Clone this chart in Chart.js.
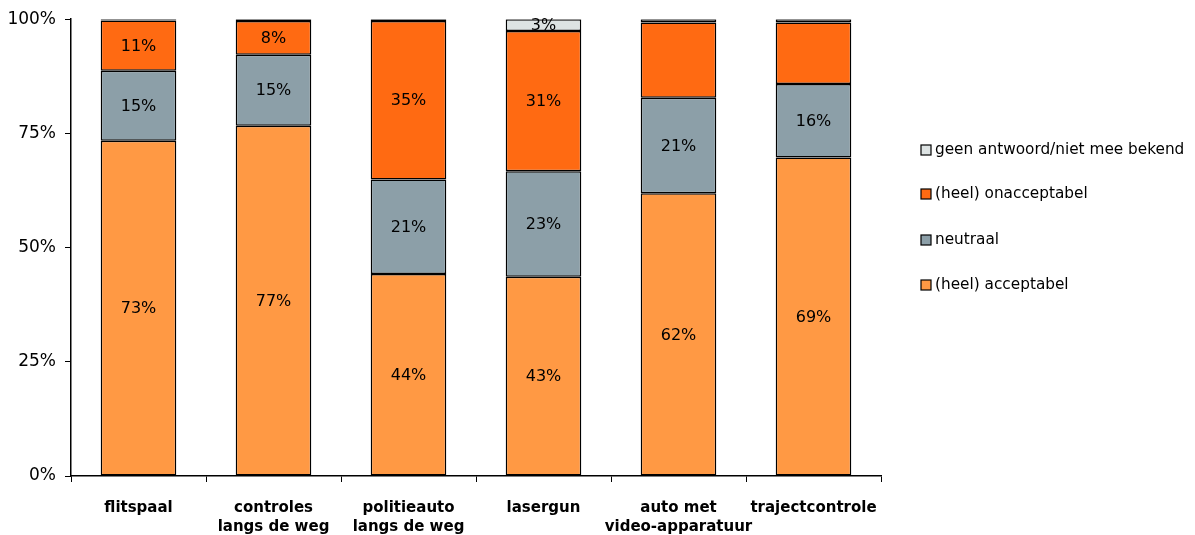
<!DOCTYPE html>
<html>
<head>
<meta charset="utf-8">
<script src="https://cdn.jsdelivr.net/npm/chart.js@4.4.1/dist/chart.umd.min.js"></script>
<style>
  html, body { margin: 0; padding: 0; background: #fff; }
  #wrap { width: 1195px; height: 535px; position: relative; }
</style>
</head>
<body>
<div id="wrap"><canvas id="c"></canvas></div>
<script>
// ---- data ----
const categories = [
  "flitspaal",
  ["controles", "langs de weg"],
  ["politieauto", "langs de weg"],
  "lasergun",
  ["auto met", "video-apparatuur"],
  "trajectcontrole"
];
const seriesNames = ["(heel) acceptabel", "neutraal", "(heel) onacceptabel", "geen antwoord/niet mee bekend"];
const acceptabel   = [73.4, 76.7, 44.2, 43.6, 61.9, 69.7];
const neutraal     = [15.3, 15.5, 20.7, 23.1, 20.9, 16.1];
const onacceptabel = [11.0, 7.4, 34.7, 30.7, 16.5, 13.5];
const geenAntwoord = [0.3, 0.4, 0.4, 2.6, 0.7, 0.7];
const labelsAcceptabel   = ["73%", "77%", "44%", "43%", "62%", "69%"];
const labelsNeutraal     = ["15%", "15%", "21%", "23%", "21%", "16%"];
const labelsOnacceptabel = ["11%", "8%", "35%", "31%", null, null];
const labelsGeen         = [null, null, null, "3%", null, null];
const yTicks = [0, 25, 50, 75, 100];

const colors = ["#FF9944", "#8C9FA8", "#FF6A12", "#DDE3E3"];

const segLabels = [labelsAcceptabel, labelsNeutraal, labelsOnacceptabel, labelsGeen];
const seriesData = [acceptabel, neutraal, onacceptabel, geenAntwoord];

const datasets = seriesData.map((d, i) => ({
  label: seriesNames[i],
  data: d,
  backgroundColor: colors[i],
  borderColor: "#000",
  borderWidth: 1.5,
  borderSkipped: false,
  categoryPercentage: 1.0,
  barPercentage: 0.56
}));

const segLabelPlugin = {
  id: "segLabels",
  afterDatasetsDraw(chart) {
    const ctx = chart.ctx;
    ctx.save();
    ctx.font = "16px 'DejaVu Sans'";
    ctx.fillStyle = "#000";
    ctx.textAlign = "center";
    ctx.textBaseline = "middle";
    chart.data.datasets.forEach((ds, di) => {
      const meta = chart.getDatasetMeta(di);
      meta.data.forEach((el, i) => {
        const t = segLabels[di][i];
        if (!t) return;
        ctx.fillText(t, el.x, (el.y + el.base) / 2 + 1);
      });
    });
    ctx.restore();
  }
};

const legendPlugin = {
  id: "customLegend",
  afterDraw(chart) {
    const ctx = chart.ctx;
    const ca = chart.chartArea;
    const x0 = ca.right + 40;
    const ys = [150, 194, 240, 285];
    ctx.save();
    ctx.font = "15.3px 'DejaVu Sans'";
    ctx.textBaseline = "middle";
    ctx.textAlign = "left";
    const n = chart.data.datasets.length;
    for (let k = 0; k < n; k++) {
      const di = n - 1 - k;
      const ds = chart.data.datasets[di];
      const y = ys[k];
      ctx.fillStyle = ds.backgroundColor;
      ctx.fillRect(x0, y - 5, 10, 10);
      ctx.strokeStyle = "#000";
      ctx.lineWidth = 1.2;
      ctx.strokeRect(x0, y - 5, 10, 10);
      ctx.fillStyle = "#000";
      ctx.fillText(ds.label, x0 + 14, y);
    }
    ctx.restore();
  }
};

new Chart(document.getElementById("c"), {
  type: "bar",
  data: { labels: categories, datasets },
  options: {
    responsive: true,
    maintainAspectRatio: false,
    animation: false,
    layout: { padding: { top: 17, right: 314, bottom: 0, left: 0 } },
    plugins: {
      legend: { display: false },
      tooltip: { enabled: false }
    },
    scales: {
      x: {
        stacked: true,
        grid: { display: true, drawOnChartArea: false, drawTicks: true, tickLength: 6, color: "#000", offset: true },
        border: { display: true, color: "#000", width: 1.5 },
        ticks: {
          color: "#000",
          font: { family: "'DejaVu Sans'", size: 15, weight: "bold", lineHeight: 1.25 },
          padding: 17,
          maxRotation: 0,
          autoSkip: false
        },
        afterFit(scale) { scale.height = 59; }
      },
      y: {
        stacked: true,
        min: 0,
        max: 100,
        afterBuildTicks(scale) { scale.ticks = yTicks.map(v => ({ value: v })); },
        grid: { display: true, drawOnChartArea: false, drawTicks: true, tickLength: 6, color: "#000" },
        border: { display: true, color: "#000", width: 1.5 },
        ticks: {
          color: "#000",
          font: { family: "'DejaVu Sans'", size: 17 },
          padding: 9,
          callback: v => v + "%"
        },
        afterFit(scale) { scale.width = 71; }
      }
    }
  },
  plugins: [segLabelPlugin, legendPlugin]
});
</script>
</body>
</html>
